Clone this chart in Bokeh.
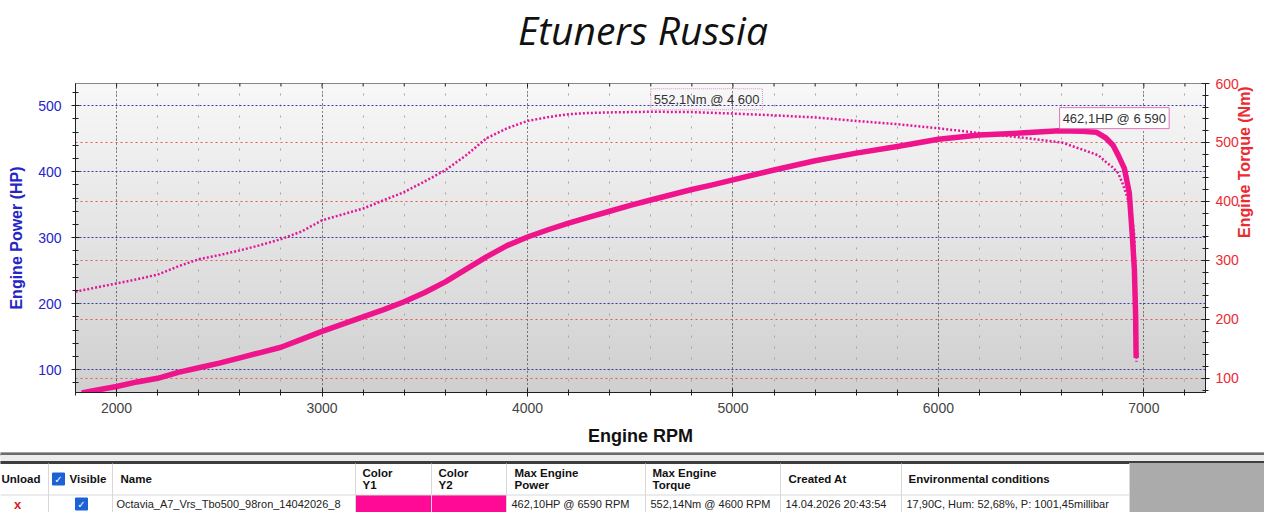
import numpy as np
from bokeh.plotting import figure
from bokeh.models import Range1d, LinearAxis, SingleIntervalTicker, Grid, Label, Div
from bokeh.layouts import column
from bokeh.embed import file_html
from bokeh.resources import INLINE
from bokeh.core.properties import value

# ---------------- data ----------------
TITLE = "Etuners Russia"
X_LABEL = "Engine RPM"
Y1_LABEL = "Engine Power (HP)"
Y2_LABEL = "Engine Torque (Nm)"

power_rpm = [1830, 1900, 2000, 2100, 2200, 2300, 2400, 2500, 2600, 2700, 2800, 2900,
             3000, 3100, 3200, 3300, 3400, 3500, 3600, 3700, 3800, 3900, 4000, 4100,
             4200, 4300, 4400, 4500, 4600, 4700, 4800, 4900, 5000, 5200, 5400, 5600,
             5800, 6000, 6200, 6400, 6590, 6700, 6770, 6815, 6850, 6875, 6905, 6929,
             6944, 6954, 6960, 6962, 6963]
power_hp = [65, 69, 74.5, 81.5, 87, 96, 103, 110, 118, 126, 134, 146,
            158, 169, 180, 191, 203, 217, 233, 252, 271, 288, 301, 312,
            322, 331, 340, 349, 357, 365, 373, 380, 387.5, 402.5, 416.5, 428,
            438, 449, 455.5, 458.5, 462.1, 461, 459.5, 451, 440, 425, 405, 368,
            302, 251, 180, 125, 118]

torque_rpm = [1800, 1900, 2000, 2100, 2200, 2300, 2400, 2500, 2600, 2700, 2800, 2900,
              3000, 3100, 3200, 3300, 3400, 3500, 3600, 3700, 3800, 3900, 4000, 4100,
              4200, 4300, 4400, 4500, 4600, 4800, 5000, 5200, 5400, 5600, 5800, 6000,
              6200, 6400, 6600, 6700, 6780, 6815, 6848, 6875, 6897, 6929, 6945, 6954,
              6960, 6963, 6964]
torque_nm = [247, 254, 261, 268, 276, 290, 302, 309, 317, 326, 336, 349,
             368, 378, 388, 402, 416, 434, 453, 478, 507, 524, 536.5, 543,
             548, 550, 551, 551.5, 552.1, 551.5, 549, 546, 542.5, 536.5, 531, 524,
             516, 508.5, 500, 488, 478, 467, 458, 448, 430, 397, 368, 340,
             250, 150, 128]

peak_power_rpm, peak_power_val = 6590, 462.1
peak_torque_rpm, peak_torque_val = 4600, 552.1
power_peak_label = "462,1HP @ 6 590"
torque_peak_label = "552,1Nm @ 4 600"

table_headers = ["Unload", "Visible", "Name", "Color\nY1", "Color\nY2",
                 "Max Engine\nPower", "Max Engine\nTorque", "Created At",
                 "Environmental conditions"]
row_name = "Octavia_A7_Vrs_Tbo500_98ron_14042026_8"
row_power = "462,10HP @ 6590 RPM"
row_torque = "552,14Nm @ 4600 RPM"
row_created = "14.04.2026 20:43:54"
row_env = "17,90C, Hum: 52,68%, P: 1001,45millibar"
row_unload = "x"

# ---------------- styling / layout ----------------
X_RANGE = (1800, 7300)
HP_RANGE = (65.5, 533.5)
NM_RANGE = (76, 600)
PINK = "#F0148C"
PINK_T = "#E0189A"
BLUE = "#2626C8"
RED = "#EC2A32"
FONT = "Liberation Sans"

# title as a separate block above the chart
title_div = Div(text=TITLE, width=1264, height=60, margin=0,
                styles={"font-family": "'Open Sans', sans-serif", "font-style": "italic",
                        "font-size": "39px", "line-height": "60px", "text-align": "center",
                        "color": "#111111", "text-indent": "22px", "white-space": "nowrap"})

p = figure(width=1264, height=392, x_range=Range1d(*X_RANGE), y_range=Range1d(*HP_RANGE),
           output_backend="svg", toolbar_location=None, title=None,
           min_border_left=75, min_border_right=57, min_border_top=23, min_border_bottom=60,
           x_axis_label=X_LABEL, y_axis_label=Y1_LABEL)
p.background_fill_color = "#eeeeee"
p.border_fill_color = "white"
p.outline_line_color = "#606060"

# gradient background
n = 128
t = np.linspace(0, 1, n)[:, None]
top_c = np.array([248, 248, 248]); bot_c = np.array([208, 208, 208])
rgb = (bot_c * (1 - t) + top_c * t).astype(np.uint8)
img = np.empty((n, 2), dtype=np.uint32)
view = img.view(dtype=np.uint8).reshape((n, 2, 4))
view[:, :, 0] = rgb[:, 0:1]
view[:, :, 1] = rgb[:, 1:2]
view[:, :, 2] = rgb[:, 2:3]
view[:, :, 3] = 255
p.image_rgba(image=[img], x=X_RANGE[0], y=HP_RANGE[0],
             dw=X_RANGE[1] - X_RANGE[0], dh=HP_RANGE[1] - HP_RANGE[0], level="image")

# tickers
xt = SingleIntervalTicker(interval=1000, num_minor_ticks=5)
yt = SingleIntervalTicker(interval=100, num_minor_ticks=5)
yt2 = SingleIntervalTicker(interval=100, num_minor_ticks=5)

def style_axis(ax, tick_color, label_color, standoff, label_standoff):
    ax.axis_line_color = "#202020"
    ax.major_tick_line_color = "#202020"
    ax.minor_tick_line_color = "#202020"
    ax.major_tick_in = 4
    ax.major_tick_out = 4
    ax.minor_tick_in = 3
    ax.minor_tick_out = 3
    ax.major_label_text_font = FONT
    ax.major_label_text_font_size = "14px"
    ax.major_label_text_color = tick_color
    ax.major_label_standoff = standoff
    ax.axis_label_text_font = FONT
    ax.axis_label_text_font_style = "bold"
    ax.axis_label_text_font_size = "16px"
    ax.axis_label_text_color = label_color
    ax.axis_label_standoff = label_standoff

# x axis
p.xaxis.ticker = xt
style_axis(p.xaxis[0], "#444444", "#111111", 6, 10)
p.xaxis.axis_label_text_font_size = "18px"

# left axis
p.yaxis.ticker = yt
style_axis(p.yaxis[0], BLUE, BLUE, 10, 10)

# right axis
p.extra_y_ranges = {"torque": Range1d(*NM_RANGE)}
ax_r = LinearAxis(y_range_name="torque", ticker=yt2, axis_label=Y2_LABEL)
style_axis(ax_r, RED, RED, 6, 3)
ax_r.axis_label_orientation = np.pi / 2
p.add_layout(ax_r, "right")

# top edge tick marks (inside the frame)
major_x = list(range(2000, X_RANGE[1] + 1, 1000))
minor_x = [v for v in range(X_RANGE[0], X_RANGE[1] + 1, 200) if v % 1000]
p.scatter(x=major_x, y=[HP_RANGE[1]] * len(major_x), marker="dash", angle=np.pi / 2,
          size=8, line_color="#202020", line_width=1)
p.scatter(x=minor_x, y=[HP_RANGE[1]] * len(minor_x), marker="dash", angle=np.pi / 2,
          size=6, line_color="#202020", line_width=1)

# grids
p.xgrid.ticker = xt
p.xgrid.grid_line_color = "#1a1a1a"
p.xgrid.grid_line_dash = "1 3"
p.xgrid.minor_grid_line_color = "#a4a4a4"
p.xgrid.minor_grid_line_dash = "2 9"
p.ygrid.ticker = yt
p.ygrid.grid_line_color = "#3c3ca8"
p.ygrid.grid_line_dash = "2 2"
g2 = Grid(dimension=1, ticker=yt2, y_range_name="torque",
          grid_line_color="#e05a5a", grid_line_dash="2 3")
p.add_layout(g2)

# curves
p.line(torque_rpm, torque_nm, y_range_name="torque", line_width=2.5,
       line_dash="2 2", color=PINK_T)
p.line(power_rpm, power_hp, line_width=5.5, color=PINK, line_join="round")

# peak labels
p.add_layout(Label(x=peak_power_rpm, y=peak_power_val, text=power_peak_label,
                   anchor="bottom_left", y_offset=2, padding=3,
                   background_fill_color="white", border_line_color="#E070B8",
                   text_font=FONT, text_font_size="13px", text_color="#333333"))
p.add_layout(Label(x=peak_torque_rpm, y=peak_torque_val, y_range_name="torque",
                   text=torque_peak_label, anchor="bottom_left", y_offset=2, padding=3,
                   background_fill_color=None, border_line_color="#E090C8",
                   border_line_dash="1 1",
                   text_font=FONT, text_font_size="13px", text_color="#333333"))

# ---------------- table ----------------
tb = figure(width=1264, height=60, x_range=Range1d(0, 1264), y_range=Range1d(512, 452),
            output_backend="svg", toolbar_location=None, min_border=0,
            x_axis_location=None, y_axis_location=None, outline_line_color=None)
tb.grid.visible = False
tb.background_fill_color = "white"
tb.border_fill_color = "white"

for f in (p, tb):
    if "frame_align" in f.properties():
        f.frame_align = False

col_edges = [0, 48, 112, 355, 431, 506, 645, 780, 901, 1129]
# bands
tb.quad(left=[0, 0, 0, 1129], right=[1280, 1280, 1280, 1280],
        top=[452, 455, 461, 463], bottom=[455, 461, 463, 512],
        color=["#6c6c6c", "#ececec", "#3e3e3e", "#ababab"])
# colour cells
tb.quad(left=[col_edges[3], col_edges[4]], right=[col_edges[4], col_edges[5]],
        top=[495, 495], bottom=[512, 512], color=["#FF0A96", "#FF0A96"])
# grid lines
tb.segment(x0=col_edges[1:], x1=col_edges[1:], y0=[463] * 9, y1=[512] * 9,
           color="#d8d8d8", line_width=1)
tb.segment(x0=[0], x1=[1129], y0=[494.5], y1=[494.5], color="#d8d8d8", line_width=1)

# header texts
hx = [1, 69, 120, 362, 438, 514, 652, 788, 908]
tb.text(x=hx, y=[478.5] * len(hx), text=table_headers, text_font=value(FONT),
        text_font_style="bold", text_font_size="11.5px", text_color="#111111",
        text_baseline="middle", text_line_height=1.0)
# checkboxes
tb.scatter(x=[58, 81], y=[478.5, 503.5], marker="square", size=12, color="#1A62D6")
tb.text(x=[58, 81], y=[479, 504], text=["✓", "✓"], text_font=value("DejaVu Sans"),
        text_font_size="10px", text_color="white", text_align="center",
        text_baseline="middle", text_font_style="bold")
# row texts
tb.text(x=[17], y=[503.5], text=[row_unload], text_font=value(FONT), text_font_style="bold",
        text_font_size="13px", text_color="#E02020", text_align="center",
        text_baseline="middle")
tb.text(x=[116, 511, 650, 785, 906], y=[503.5] * 5,
        text=[row_name, row_power, row_torque, row_created, row_env],
        text_font=value(FONT), text_font_size="11px", text_color="#222222",
        text_baseline="middle")

layout = column(title_div, p, tb, spacing=0)
open("out.html", "w").write(file_html(layout, INLINE))
